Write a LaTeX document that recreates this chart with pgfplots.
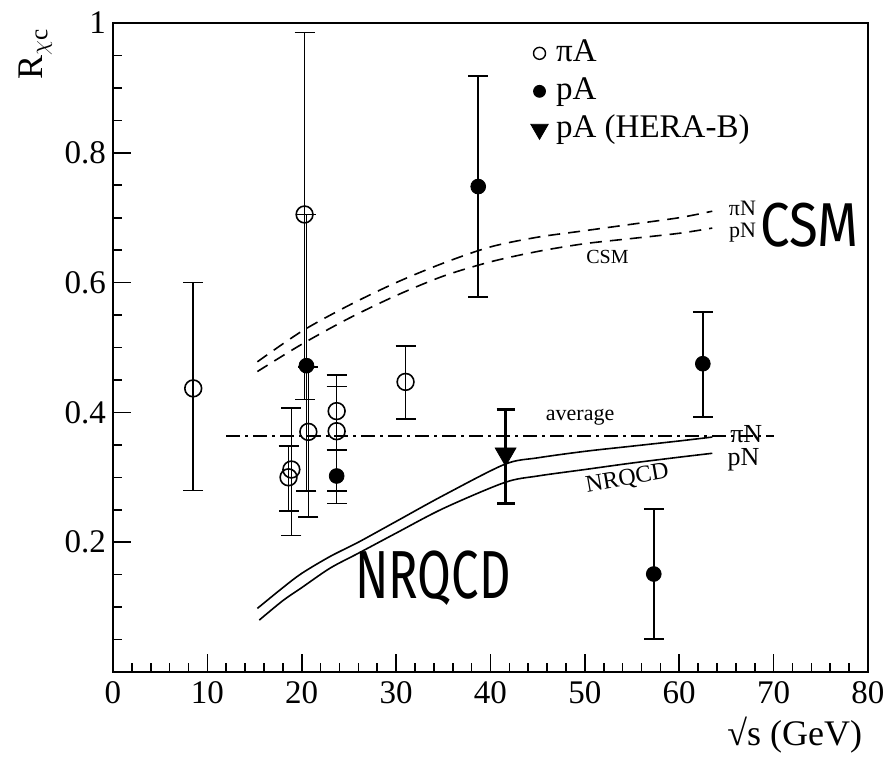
\documentclass[border=0pt]{standalone}
\usepackage{fontspec}
\setmainfont{Liberation Serif}
\newfontfamily\hand{Fira Sans}
\usepackage{pgfplots}
\pgfplotsset{compat=1.18}
\begin{document}
\begin{tikzpicture}
\useasboundingbox (-56.5pt,-42.5pt) rectangle (388.5pt,336pt);
\begin{axis}[
  at={(0pt,0pt)}, anchor=south west,
  width=377.5pt, height=324.5pt, scale only axis,
  xmin=0, xmax=80, ymin=0, ymax=1,
  clip=false,
  axis line style={line width=1.2pt},
  every tick/.style={black, line width=0.8pt},
  tick align=inside, tick pos=left,
  xtick={0,10,...,80}, minor x tick num=4,
  ytick={0.2,0.4,0.6,0.8,1},
  minor ytick={0.05,0.1,0.15,0.25,0.3,0.35,0.45,0.5,0.55,0.65,0.7,0.75,0.85,0.9,0.95},
  major tick length=9pt, minor tick length=4.5pt,
  tick label style={font=\fontsize{16.5}{19}\selectfont},
  /pgf/number format/assume math mode=true,
  xticklabel style={yshift=-1pt},
  xlabel={√s (GeV)},
  xlabel style={at={(axis description cs:0.903,-0.097)}, anchor=center, font=\fontsize{18}{21}\selectfont},
  ylabel={R$_{\chi\mathrm{c}}$},
  ylabel style={at={(axis description cs:-0.103,0.952)}, anchor=center, font=\fontsize{18}{21}\selectfont},
  legend style={draw=none, fill=none, at={(axis description cs:0.545,0.987)}, anchor=north west,
    font=\fontsize{16.5}{19}\selectfont, row sep=1.5pt,
    nodes={inner ysep=1pt, inner xsep=4pt, text height=12pt, text depth=3.5pt}},
  legend cell align=left,
  error bars/error mark=|,
]
% legend images
\addlegendimage{only marks, mark=o, mark size=3pt, mark options={line width=0.7pt}}
\addlegendentry{πA}
\addlegendimage{only marks, mark=*, mark size=3pt}
\addlegendentry{pA}
\addlegendimage{only marks, mark=triangle*, mark size=5pt, mark options={rotate=180}}
\addlegendentry{pA (HERA-B)}

% CSM dashed curves
\addplot[forget plot, black, line width=0.8pt, dash pattern=on 6pt off 4pt, smooth] coordinates {
(15.3,0.478) (20,0.525) (25,0.565) (30,0.600) (35,0.630) (40,0.655) (45,0.670) (50,0.680) (55,0.690) (60,0.700) (63.5,0.710)};
\addplot[forget plot, black, line width=0.8pt, dash pattern=on 6pt off 4pt, smooth] coordinates {
(15.3,0.463) (20,0.505) (25,0.545) (30,0.580) (35,0.610) (40,0.632) (45,0.648) (50,0.660) (55,0.668) (60,0.676) (63.5,0.684)};

% NRQCD solid curves
\addplot[forget plot, black, line width=0.8pt, smooth] coordinates {
(15.3,0.098) (18,0.130) (20,0.152) (23,0.178) (26,0.200) (30,0.232) (35,0.272) (41.5,0.320) (45,0.330) (50,0.340) (55,0.348) (60,0.356) (63.5,0.362)};
\addplot[forget plot, black, line width=0.8pt, smooth] coordinates {
(15.5,0.080) (18,0.110) (20,0.130) (23,0.160) (26,0.183) (30,0.214) (35,0.252) (41.5,0.292) (45,0.302) (50,0.312) (55,0.322) (60,0.331) (63.5,0.337)};

% average line
\addplot[forget plot, black, line width=0.8pt, dash pattern=on 7pt off 2.5pt on 1.5pt off 2.5pt] coordinates {(12,0.364) (70,0.364)};

% piA open circles
\addplot[forget plot, only marks, black, mark=o, mark size=4.2pt, mark options={line width=0.8pt},
  error bars/.cd, y dir=both, y explicit,
  error bar style={line width=0.75pt}, error mark options={line width=0.75pt, mark size=5pt}]
coordinates {
(8.5,0.437) += (0,0.163) -= (0,0.157)
(18.6,0.300) += (0,0.048) -= (0,0.052)
(18.9,0.312) += (0,0.095) -= (0,0.102)
(20.3,0.705) += (0,0.280) -= (0,0.285)
(20.7,0.370) += (0,0.100) -= (0,0.131)
(23.7,0.402) += (0,0.056) -= (0,0.060)
(23.7,0.371) += (0,0.069) -= (0,0.092)
(31.0,0.447) += (0,0.055) -= (0,0.057)
};

% pA filled circles
\addplot[forget plot, only marks, black, mark=*, mark size=3.7pt,
  error bars/.cd, y dir=both, y explicit,
  error bar style={line width=0.75pt}, error mark options={line width=0.75pt, mark size=5pt}]
coordinates {
(20.5,0.472) += (0,0.233) -= (0,0.193)
(23.7,0.302) += (0,0.040) -= (0,0.042)
(38.7,0.748) += (0,0.170) -= (0,0.170)
(57.3,0.151) += (0,0.100) -= (0,0.100)
(62.5,0.475) += (0,0.080) -= (0,0.082)
};

% HERA-B triangle
\addplot[forget plot, only marks, black, mark=triangle*, mark size=6pt, mark options={rotate=180},
  error bars/.cd, y dir=both, y explicit,
  error bar style={line width=1.6pt}, error mark options={line width=1.6pt, mark size=4.5pt}]
coordinates {
(41.6,0.336) += (0,0.069) -= (0,0.076)
};

% text labels
\node[font=\fontsize{11}{13}\selectfont] at (axis cs:49.5,0.392) {average};
\node[font=\fontsize{12}{14}\selectfont, rotate=10] at (axis cs:54.5,0.297) {NRQCD};
\node[font=\fontsize{10}{12}\selectfont] at (axis cs:52.4,0.640) {CSM};
\node[font=\fontsize{11}{13}\selectfont] at (axis cs:66.7,0.714) {πN};
\node[font=\fontsize{11}{13}\selectfont] at (axis cs:66.7,0.677) {pN};
\node[font=\fontsize{13}{15}\selectfont, inner sep=0.5pt] at (axis cs:67.1,0.367) {πN};
\node[font=\fontsize{13}{15}\selectfont, inner sep=0.5pt] at (axis cs:66.8,0.327) {pN};
\node[font=\hand\fontsize{31}{35}\selectfont, xscale=0.85] at (axis cs:73.8,0.689) {CSM};
\node[font=\hand\fontsize{34}{38}\selectfont, xscale=0.72] at (axis cs:33.9,0.145) {NRQCD};
\end{axis}
\end{tikzpicture}
\end{document}
